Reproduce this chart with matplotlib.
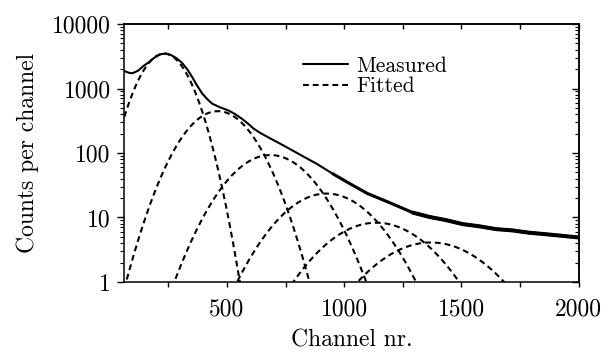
import matplotlib
matplotlib.use('Agg')
import matplotlib.pyplot as plt
import numpy as np
from matplotlib.ticker import LogLocator, NullFormatter

# ---- data ----
channels = [62, 80, 96, 120, 145, 167, 190, 215, 238, 260, 285, 309, 330, 351, 372,
            394, 415, 436, 470, 507, 535, 564, 590, 613, 640, 680, 741, 810, 883, 950,
            1024, 1100, 1187, 1293, 1364, 1435, 1506, 1577, 1648, 1719, 1790, 1861,
            1930, 2000]
measured = [1870, 1760, 1720, 1880, 2250, 2560, 3000, 3380, 3500, 3320, 2950, 2480,
            2000, 1520, 1120, 840, 690, 585, 512, 455, 400, 339, 285, 240, 207, 172,
            131, 95, 68, 48, 33.5, 23.5, 17.4, 11.9, 10.2, 9.1, 7.9, 7.3, 6.6, 6.3,
            5.8, 5.5, 5.2, 4.9]

# Gaussian fit components (amplitude, centre, width)
fit_amplitudes = [3470, 445, 93, 23.5, 8.3, 4.1]
fit_centers = [232, 461, 685, 925, 1137, 1370]
fit_sigmas = [80, 112, 136, 152, 172, 186]

x_ticks = [500, 1000, 1500, 2000]
x_tick_labels = ['500', '1000', '1500', '2000']
x_minor = [250, 750, 1250, 1750]
y_ticks = [1, 10, 100, 1000, 10000]
y_tick_labels = ['1', '10', '100', '1000', '10000']

plt.rcParams['font.family'] = ['cmr10', 'DejaVu Serif']
plt.rcParams['axes.formatter.use_mathtext'] = True
plt.rcParams['mathtext.fontset'] = 'cm'

fig = plt.figure(figsize=(6.03, 3.52), dpi=100)
ax = fig.add_axes([0.2061, 0.1989, 0.9594 - 0.2061, 0.9318 - 0.1989])

xmin, xmax = 62, 2000
ch_arr = np.array(channels)
m_arr = np.array(measured)
ax.plot(ch_arr, m_arr, color='black', lw=1.5, label='Measured',
        solid_joinstyle='round', solid_capstyle='round')
# the measured tail is a noisy band in the reference: draw it wider
tail1 = ch_arr >= 950
ax.plot(ch_arr[tail1], m_arr[tail1], color='black', lw=2.2, solid_capstyle='round')
tail2 = ch_arr >= 1293
ax.plot(ch_arr[tail2], m_arr[tail2], color='black', lw=2.9, solid_capstyle='round')

grid = np.linspace(xmin, xmax, 1500)
for i, (a, m, s) in enumerate(zip(fit_amplitudes, fit_centers, fit_sigmas)):
    g = a * np.exp(-(grid - m) ** 2 / (2 * s ** 2))
    ax.plot(grid, g, color='black', lw=1.5, linestyle=(0, (2.8, 1.9)),
            label='Fitted' if i == 0 else None)

ax.set_yscale('log')
ax.set_xlim(xmin, xmax)
ax.set_ylim(1, 10000)

ax.set_xticks(x_ticks)
ax.set_xticklabels(x_tick_labels)
ax.set_xticks(x_minor, minor=True)
ax.set_yticks(y_ticks)
ax.set_yticklabels(y_tick_labels)
ax.yaxis.set_minor_locator(LogLocator(base=10, subs=np.arange(2, 10)))
ax.yaxis.set_minor_formatter(NullFormatter())

ax.tick_params(axis='x', which='both', direction='out', length=3.6, width=1.0)
ax.tick_params(axis='x', which='major', labelsize=17, pad=8)
ax.tick_params(axis='y', which='major', direction='out', length=5, width=1.0,
               labelsize=17, pad=4.8)
ax.tick_params(axis='y', which='minor', direction='out', length=3, width=0.8)

for sp in ax.spines.values():
    sp.set_linewidth(1.1)

secx = ax.secondary_xaxis('top')
secx.set_xticks(x_ticks)
secx.set_xticks(x_minor, minor=True)
secx.xaxis.set_major_formatter(NullFormatter())
secx.tick_params(which='both', direction='in', length=3.6, width=1.0)
secx.spines['top'].set_linewidth(1.1)

secy = ax.secondary_yaxis('right')
secy.set_yticks(y_ticks)
secy.yaxis.set_minor_locator(LogLocator(base=10, subs=np.arange(2, 10)))
secy.yaxis.set_major_formatter(NullFormatter())
secy.yaxis.set_minor_formatter(NullFormatter())
secy.tick_params(which='major', direction='in', length=5, width=1.0)
secy.tick_params(which='minor', direction='in', length=3, width=0.8)
secy.spines['right'].set_linewidth(1.1)

ax.set_xlabel('Channel nr.', fontsize=17, labelpad=6.5)
ax.set_ylabel('Counts per channel', fontsize=17, labelpad=9)

ax.legend(loc='upper left', bbox_to_anchor=(0.393, 0.875), frameon=False,
          fontsize=15.5, handlelength=2.1, handletextpad=0.4, labelspacing=0.05,
          borderaxespad=0, borderpad=0)

fig.savefig('out.png', dpi=100)
